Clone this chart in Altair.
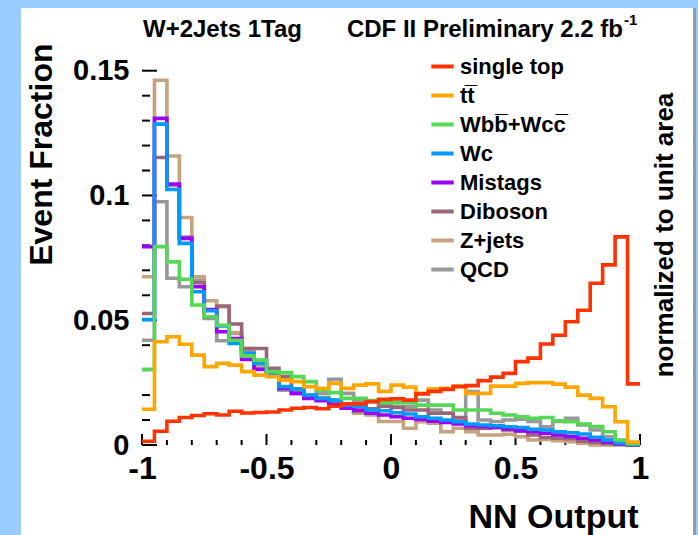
import altair as alt
import pandas as pd

FONT = "Liberation Sans"

# ---------------- data ----------------
SERIES = ["single top", "tt\u0305", "Wbb\u0305+Wcc\u0305", "Wc", "Mistags", "Diboson", "Z+jets", "QCD"]
COLORS = ["#FF3300", "#FFA600", "#55D855", "#0099FF", "#9A00FF", "#9A6677", "#C6A27F", "#999999"]
DRAW_ORDER = ["QCD", "Z+jets", "Diboson", "Mistags", "Wc", "Wbb\u0305+Wcc\u0305", "tt\u0305", "single top"]

EDGES = [round(-1 + 0.05 * i, 2) for i in range(41)]

single_top = [0.0015, 0.0055, 0.0095, 0.011, 0.0118, 0.0125, 0.012, 0.0135, 0.0128, 0.013,
              0.0132, 0.014, 0.0147, 0.015, 0.0145, 0.0155, 0.0165, 0.0165, 0.0174, 0.0183,
              0.0185, 0.018, 0.0205, 0.0215, 0.0223, 0.0234, 0.0238, 0.0258, 0.0272, 0.0287,
              0.0334, 0.0348, 0.0405, 0.044, 0.0494, 0.054, 0.0648, 0.0722, 0.0834, 0.0245]
ttbar = [0.0143, 0.0414, 0.0434, 0.0404, 0.036, 0.0314, 0.0327, 0.032, 0.0294, 0.028,
         0.0274, 0.026, 0.0254, 0.0234, 0.0227, 0.0247, 0.0227, 0.024, 0.0245, 0.0215,
         0.024, 0.0232, 0.0207, 0.0225, 0.0227, 0.0236, 0.0207, 0.0207, 0.0236, 0.0236,
         0.0247, 0.025, 0.025, 0.0244, 0.0232, 0.020, 0.0187, 0.0153, 0.0093, 0.0012]
wbb_wcc = [0.0303, 0.0795, 0.0734, 0.0664, 0.0561, 0.0514, 0.048, 0.042, 0.0357, 0.034,
           0.0294, 0.029, 0.0274, 0.0254, 0.022, 0.021, 0.0187, 0.0187, 0.0178, 0.017,
           0.017, 0.017, 0.016, 0.016, 0.016, 0.014, 0.014, 0.014, 0.0127, 0.012,
           0.0113, 0.0107, 0.011, 0.0097, 0.0093, 0.0084, 0.0074, 0.0053, 0.002, 0.0005]
wc = [0.0503, 0.1286, 0.1024, 0.0808, 0.0614, 0.0538, 0.0477, 0.0407, 0.0367, 0.0327,
      0.0287, 0.0234, 0.0225, 0.020, 0.0187, 0.018, 0.016, 0.0155, 0.014, 0.0137,
      0.0129, 0.0124, 0.0113, 0.0107, 0.010, 0.0093, 0.0084, 0.008, 0.0077, 0.0073,
      0.007, 0.0063, 0.006, 0.0053, 0.0049, 0.0044, 0.0031, 0.002, 0.0008, 0.0002]
mistags = [0.0795, 0.1309, 0.1046, 0.0828, 0.0634, 0.0543, 0.0454, 0.0427, 0.0343, 0.0303,
           0.0285, 0.0227, 0.0207, 0.0187, 0.0178, 0.016, 0.0147, 0.014, 0.0127, 0.012,
           0.0113, 0.0107, 0.0102, 0.0095, 0.009, 0.0084, 0.0077, 0.0074, 0.007, 0.0064,
           0.0057, 0.0053, 0.0047, 0.004, 0.0034, 0.0027, 0.002, 0.0011, 0.0004, 0.0001]
diboson = [0.0527, 0.1152, 0.1042, 0.0832, 0.065, 0.0514, 0.0557, 0.0485, 0.0387, 0.0387,
           0.0307, 0.0274, 0.0207, 0.0194, 0.018, 0.017, 0.016, 0.0135, 0.0145, 0.0155,
           0.015, 0.014, 0.014, 0.0127, 0.0127, 0.011, 0.0067, 0.0067, 0.007, 0.006,
           0.0055, 0.004, 0.003, 0.0027, 0.0025, 0.0015, 0.001, 0.0005, 0.0003, 0.0]
zjets = [0.0674, 0.1462, 0.1158, 0.0912, 0.0674, 0.0578, 0.0554, 0.045, 0.0387, 0.0314,
         0.0287, 0.0267, 0.022, 0.020, 0.019, 0.018, 0.0154, 0.0127, 0.012, 0.0094,
         0.0094, 0.0067, 0.0093, 0.0087, 0.0053, 0.0067, 0.0053, 0.004, 0.004, 0.0043,
         0.0033, 0.002, 0.0022, 0.0017, 0.0013, 0.0007, 0.0, 0.0, 0.0, 0.0]
qcd = [0.042, 0.0975, 0.0668, 0.0634, 0.066, 0.0507, 0.0418, 0.0447, 0.0374, 0.032,
       0.030, 0.022, 0.022, 0.020, 0.0207, 0.0263, 0.0207, 0.018, 0.0174, 0.0167,
       0.0154, 0.0154, 0.018, 0.014, 0.0127, 0.010, 0.0214, 0.010, 0.0094, 0.010,
       0.0103, 0.0094, 0.0073, 0.0094, 0.0107, 0.008, 0.006, 0.0033, 0.0007, 0.0]

VALUES = {
    "single top": single_top, "tt\u0305": ttbar, "Wbb\u0305+Wcc\u0305": wbb_wcc, "Wc": wc,
    "Mistags": mistags, "Diboson": diboson, "Z+jets": zjets, "QCD": qcd,
}

X_LABELS = [-1, -0.5, 0, 0.5, 1]
X_MINOR = [-0.9, -0.8, -0.7, -0.6, -0.4, -0.3, -0.2, -0.1, 0.1, 0.2, 0.3, 0.4, 0.6, 0.7, 0.8, 0.9]
Y_LABELS = [0, 0.05, 0.1, 0.15]
Y_MINOR = [0.01, 0.02, 0.03, 0.04, 0.06, 0.07, 0.08, 0.09, 0.11, 0.12, 0.13, 0.14]

TITLE_LEFT = "W+2Jets 1Tag"
TITLE_RIGHT = "CDF II Preliminary 2.2 fb"
TITLE_SUP = "-1"
SIDE_TEXT = "normalized to unit area"
X_TITLE = "NN Output"
Y_TITLE = "Event Fraction"

# ---------------- build table ----------------
rows = []
for name in DRAW_ORDER:
    vals = VALUES[name]
    for i, v in enumerate(vals):
        rows.append({"series": name, "x": EDGES[i], "v": v, "k": i})
    rows.append({"series": name, "x": EDGES[-1], "v": vals[-1], "k": len(vals)})
df = pd.DataFrame(rows)

W, H = 498, 400
xscale = alt.Scale(domain=[-1, 1], nice=False, zero=False)
yscale = alt.Scale(domain=[0, 0.1603], nice=False, zero=True)

xaxis = alt.Axis(values=X_LABELS, labelExpr="'' + datum.value", ticks=False, domain=False, grid=False,
                 labelFont=FONT, labelFontSize=32, labelFontWeight="bold", labelColor="black",
                 labelPadding=8, labelFlush=False, labelOverlap=False,
                 title=X_TITLE, titleFont=FONT, titleFontSize=34, titleFontWeight="bold",
                 titleColor="black", titleAnchor="end", titleAlign="right", titleBaseline="alphabetic",
                 titleX=W - 2, titleY=82, zindex=1)
yaxis = alt.Axis(values=Y_LABELS, labelExpr="'' + datum.value", ticks=False, domain=False, grid=False,
                 labelFont=FONT, labelFontSize=29, labelFontWeight="bold", labelColor="black",
                 labelPadding=13, labelFlush=False, labelOverlap=False,
                 title=Y_TITLE, titleFont=FONT, titleFontSize=32, titleFontWeight="bold",
                 titleColor="black", titleAnchor="end", titleAlign="right", titleBaseline="alphabetic",
                 titleAngle=270, titleX=-91, titleY=-2, zindex=1)

one = pd.DataFrame({"a": [0]})

bg_white = alt.Chart(one).mark_rect(color="white").encode(
    x=alt.value(-121), x2=alt.value(551), y=alt.value(-37), y2=alt.value(490))
bg_edge = alt.Chart(one).mark_rect(color="#8f9cab").encode(
    x=alt.value(551), x2=alt.value(554), y=alt.value(-37), y2=alt.value(490))

lines = alt.Chart(df).mark_line(interpolate="step-after", strokeWidth=3.6, strokeJoin="miter",
                                strokeCap="butt").encode(
    x=alt.X("x:Q", scale=xscale, axis=xaxis),
    y=alt.Y("v:Q", scale=yscale, axis=yaxis),
    color=alt.Color("series:N", scale=alt.Scale(domain=SERIES, range=COLORS),
                    legend=alt.Legend(orient="none", legendX=287, legendY=8, title=None,
                                      symbolType="stroke", symbolSize=500, symbolStrokeWidth=4,
                                      labelFont=FONT, labelFontSize=22, labelFontWeight="bold",
                                      labelColor="black", labelOffset=4, rowPadding=4,
                                      padding=0, labelLimit=300)),
    order=alt.Order("k:Q"),
)

ymaj = alt.Chart(pd.DataFrame({"v": Y_LABELS})).mark_rule(color="black", strokeWidth=2).encode(
    y=alt.Y("v:Q", scale=yscale, axis=yaxis), x=alt.value(0), x2=alt.value(15))
ymin = alt.Chart(pd.DataFrame({"v": Y_MINOR})).mark_rule(color="black", strokeWidth=2).encode(
    y=alt.Y("v:Q", scale=yscale, axis=yaxis), x=alt.value(0), x2=alt.value(8))
xmaj = alt.Chart(pd.DataFrame({"x": X_LABELS})).mark_rule(color="black", strokeWidth=2).encode(
    x=alt.X("x:Q", scale=xscale, axis=xaxis), y=alt.value(H), y2=alt.value(H - 11))
xmin = alt.Chart(pd.DataFrame({"x": X_MINOR})).mark_rule(color="black", strokeWidth=2).encode(
    x=alt.X("x:Q", scale=xscale, axis=xaxis), y=alt.value(H), y2=alt.value(H - 5))

t_left = alt.Chart(pd.DataFrame({"t": [TITLE_LEFT]})).mark_text(
    font=FONT, fontSize=24, fontWeight="bold", align="left", baseline="alphabetic", color="black").encode(
    text="t:N", x=alt.value(1), y=alt.value(-8))
t_right = alt.Chart(pd.DataFrame({"t": [TITLE_RIGHT]})).mark_text(
    font=FONT, fontSize=24, fontWeight="bold", align="right", baseline="alphabetic", color="black").encode(
    text="t:N", x=alt.value(481), y=alt.value(-8))
t_sup = alt.Chart(pd.DataFrame({"t": [TITLE_SUP]})).mark_text(
    font=FONT, fontSize=15, fontWeight="bold", align="left", baseline="alphabetic", color="black").encode(
    text="t:N", x=alt.value(482), y=alt.value(-20))
t_side = alt.Chart(pd.DataFrame({"t": [SIDE_TEXT]})).mark_text(
    font=FONT, fontSize=26, fontWeight="bold", align="center", baseline="middle", angle=270,
    color="black").encode(text="t:N", x=alt.value(523), y=alt.value(190))

chart = alt.layer(bg_white, bg_edge, ymin, ymaj, xmin, xmaj, lines, t_left, t_right, t_sup, t_side).properties(
    width=W, height=H,
    padding={"left": 142, "top": 45, "right": 58, "bottom": 90},
    autosize=alt.AutoSizeParams(type="none"),
    background="#99CCFF",
).configure_view(stroke="black", strokeWidth=2)

chart.save("out.html", embed_options={"renderer": "svg", "actions": False})
